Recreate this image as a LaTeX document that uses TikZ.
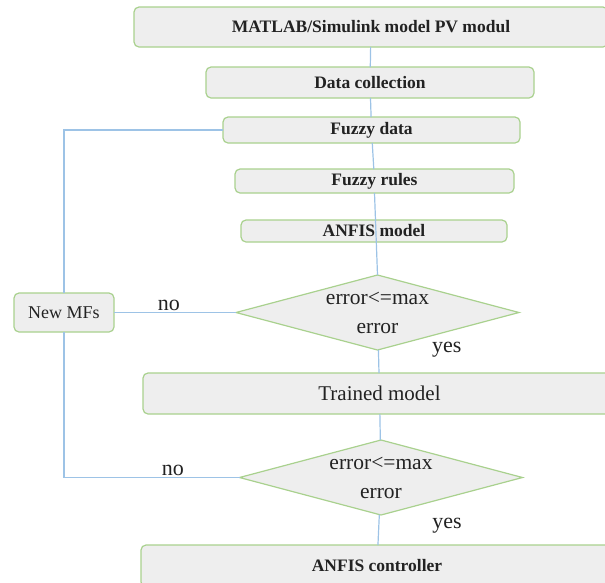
\documentclass[tikz,border=0pt]{standalone}
\usepackage{fontspec}
\setmainfont{Liberation Serif}
\newfontfamily\timesfont{Liberation Serif}
\usetikzlibrary{positioning,shapes.geometric}
\definecolor{edge}{HTML}{A9D18E}
\definecolor{fillg}{HTML}{EEEEEE}
\definecolor{wire}{HTML}{9DC3E6}
\definecolor{ink}{HTML}{222222}
\tikzset{
  box/.style={draw=edge,fill=fillg,rounded corners=5pt,line width=1.2pt,inner sep=0pt,outer sep=0pt,align=center,text=ink,font=\timesfont\fontsize{17.5}{20}\selectfont\bfseries},
  pbox/.style={box,font=\timesfont\fontsize{21}{24}\selectfont},
  dbox/.style={diamond,draw=edge,fill=fillg,line width=1.2pt,inner sep=0pt,outer sep=0pt,aspect=3.77,minimum width=283pt,minimum height=75pt,align=center,text=ink,font=\timesfont\fontsize{21.5}{29}\selectfont},
  lab/.style={font=\timesfont\fontsize{22}{24}\selectfont,text=ink,inner sep=1pt},
  link/.style={draw=wire,line width=1.2pt},
}
\begin{document}
\begin{tikzpicture}[x=1pt,y=-1pt]
\useasboundingbox (0,0) rectangle (605,582);
\clip (0,0) rectangle (605,582);
\node[box,minimum width=474pt,minimum height=40pt] (matlab) at (371,27) {MATLAB/Simulink model PV modul};
\node[box,minimum width=328pt,minimum height=31pt,below=20pt of matlab,xshift=-1pt] (collect) {Data collection};
\node[box,minimum width=297pt,minimum height=26pt,below=19pt of collect,xshift=1.5pt] (fzdata) {Fuzzy data};
\node[box,minimum width=279pt,minimum height=24pt,below=26pt of fzdata,xshift=3pt] (fzrules) {Fuzzy rules};
\node[box,minimum width=266pt,minimum height=22pt,below=27pt of fzrules,xshift=-0.5pt] (anfis) {ANFIS model};
\node[dbox,below=33pt of anfis,xshift=3.5pt] (check1) {error<=max\\error};
\node[pbox,minimum width=473pt,minimum height=41pt,below=23pt of check1,xshift=2pt] (trained) {Trained model};
\node[dbox,below=26pt of trained,xshift=1.5pt] (check2) {error<=max\\error};
\node[box,minimum width=472pt,minimum height=42pt,below=30pt of check2,xshift=-4pt] (ctrl) {ANFIS controller};
\node[pbox,font=\timesfont\fontsize{18}{20}\selectfont,minimum width=100pt,minimum height=39pt,left=122pt of check1] (newmf) {New MFs};
% main chain
\draw[link] (matlab) -- (collect);
\draw[link] (collect) -- (fzdata);
\draw[link] (fzdata) -- (fzrules);
\draw[link] (fzrules.south) -- (check1.north);
\draw[link] (check1) -- node[lab,pos=0,right=52pt] {yes} (trained);
\draw[link] (trained) -- (check2);
\draw[link] (check2) -- node[lab,pos=0.37,right=52pt] {yes} (ctrl);
% feedback
\draw[link] (newmf) -- node[lab,above,pos=0.45] {no} (check1);
\draw[link] (newmf.north) |- (fzdata.west);
\draw[link] (newmf.south) |- node[lab,above,pos=0.81] {no} (check2.west);
\end{tikzpicture}
\end{document}
